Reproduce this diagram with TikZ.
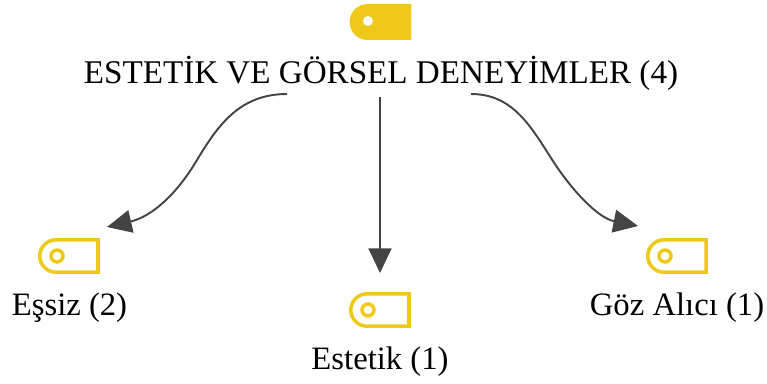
\documentclass[tikz,border=0pt]{standalone}
\usepackage{fontspec}
\setmainfont{Liberation Serif}
\usetikzlibrary{arrows.meta}
\definecolor{tagyellow}{HTML}{EFC91A}
\definecolor{linkgray}{HTML}{444444}
\tikzset{
  px/.style={x=0.02cm,y=-0.02cm},
  tagline/.style={draw=tagyellow,line width=2pt,fill=white},
  tagfull/.style={draw=tagyellow,line width=2pt,fill=tagyellow},
  link/.style={draw=linkgray,line width=1.1pt,-{Triangle[length=14pt,width=13pt]}},
  titlelabel/.style={font=\fontsize{18.85}{22}\selectfont,inner sep=0pt},
  itemlabel/.style={font=\fontsize{18.6}{22}\selectfont,inner sep=0pt},
  pics/tagicon/.style={code={
    \path[#1] (-13,-16.2) -- (29,-16.2) -- (29,16.2) -- (-13,16.2) arc[start angle=90,end angle=270,radius=16.2] -- cycle;
  }}
}

\begin{document}
\begin{tikzpicture}[px]
\useasboundingbox (0,0) rectangle (767,383);

\pic at (380.5,22) {tagicon=tagfull};
\fill[white] (368,21) circle (5);
\node[titlelabel] (main) at (381,73) {ESTETİK VE GÖRSEL DENEYİMLER (4)};

\pic at (69,256) {tagicon=tagline};
\draw[tagline] (57,256) circle (6);
\node[itemlabel] (essiz) at (69.5,307.5) {Eşsiz (2)};

\pic at (380,310) {tagicon=tagline};
\draw[tagline] (368,310) circle (6);
\node[itemlabel] (estetik) at (380,361.5) {Estetik (1)};

\pic at (677,256) {tagicon=tagline};
\draw[tagline] (665,256) circle (6);
\node[itemlabel] (goz) at (677,307.5) {Göz Alıcı (1)};

\coordinate (mainl) at (287,94);
\coordinate (mainc) at (380,97);
\coordinate (mainr) at (471,94);
\coordinate (essizmid) at (197,160);
\coordinate (gozmid) at (551,158);
\coordinate (essizend) at (107,227);
\coordinate (estetikend) at (380,273);
\coordinate (gozend) at (638,226);

\draw[link] (mainl) .. controls (240,94) and (218,125) .. (essizmid) .. controls (175,197) and (150,217) .. (essizend);
\draw[link] (mainc) -- (estetikend);
\draw[link] (mainr) .. controls (512,94) and (530,125) .. (gozmid) .. controls (572,191) and (598,218) .. (gozend);
\end{tikzpicture}
\end{document}
